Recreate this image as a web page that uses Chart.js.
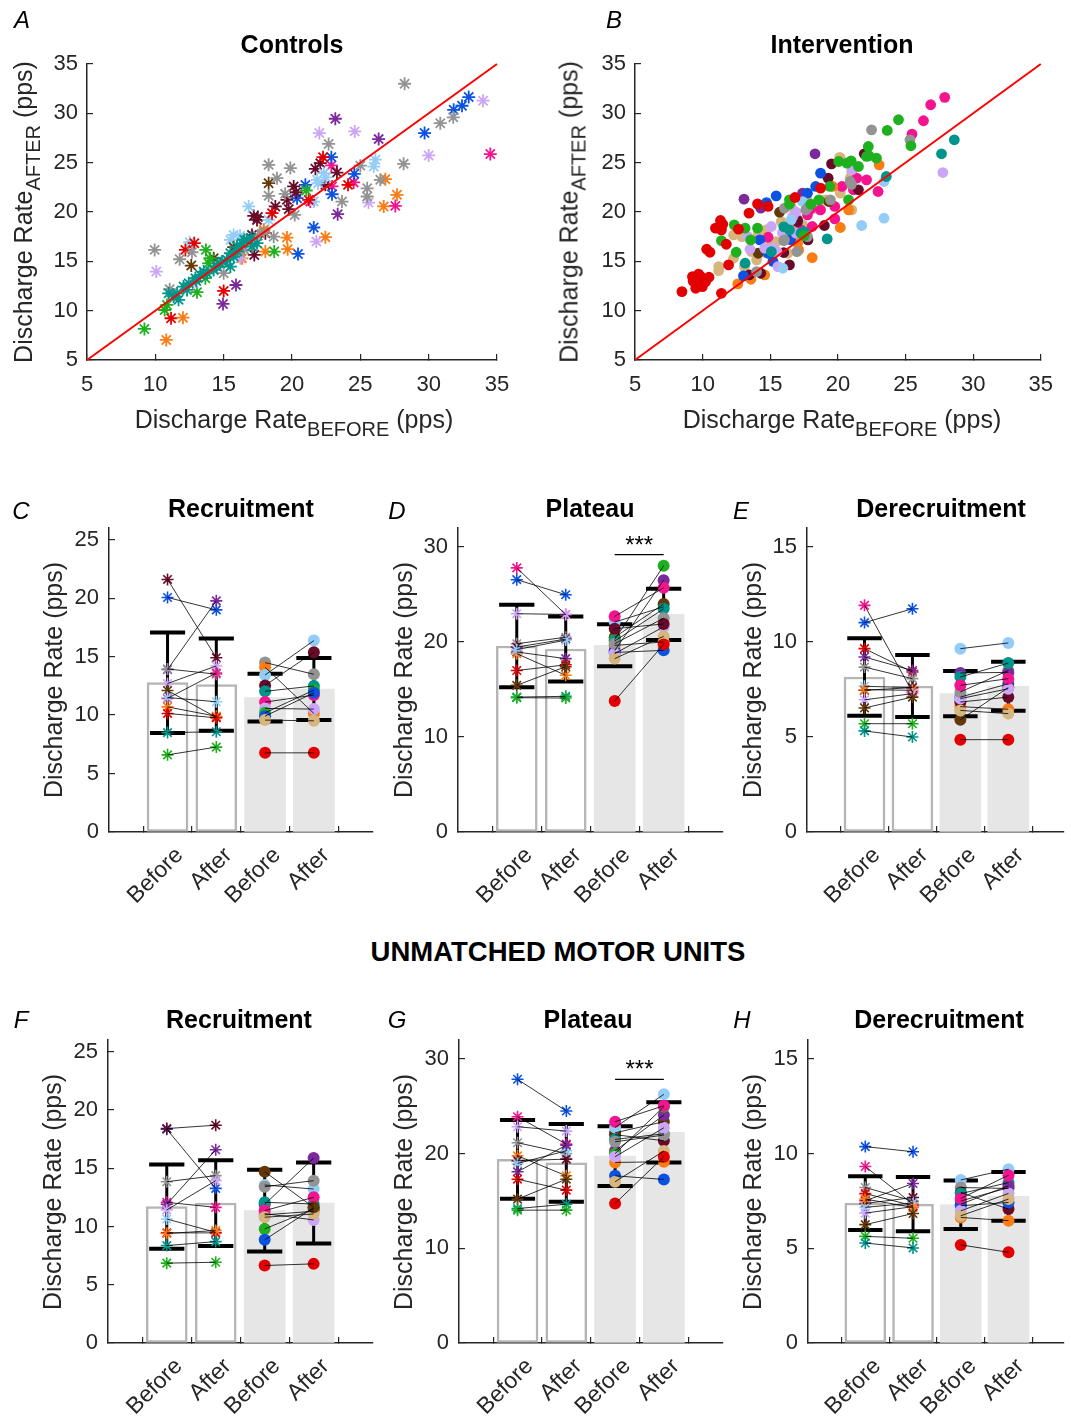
<!DOCTYPE html>
<html><head><meta charset="utf-8">
<script src="https://cdn.jsdelivr.net/npm/chart.js@4.4.0/dist/chart.umd.min.js"></script>
<style>
html,body{margin:0;padding:0;background:#fff;}
body{width:1071px;height:1419px;position:relative;overflow:hidden;font-family:'Liberation Sans',Arial,sans-serif;color:#262626;}
canvas{position:absolute;}
.lbl{position:absolute;white-space:nowrap;line-height:1;transform:translate(-50%,-50%);}
.rot{transform:translate(-50%,-50%) rotate(-90deg);}
.title{font-weight:bold;font-size:25px;color:#000;}
.big{font-weight:bold;font-size:27.5px;color:#000;}
.letter{font-style:italic;font-size:24px;color:#000;}
.axt{font-size:25px;color:#262626;}
.sub{font-size:20px;position:relative;top:8px;}
</style></head>
<body>
<canvas id="cA" width="530" height="450" style="left:0;top:0"></canvas>
<canvas id="cB" width="531" height="450" style="left:540px;top:0"></canvas>
<canvas id="cC" width="380" height="430" style="left:0;top:490px"></canvas>
<canvas id="cD" width="370" height="430" style="left:360px;top:490px"></canvas>
<canvas id="cE" width="361" height="430" style="left:710px;top:490px"></canvas>
<canvas id="cF" width="380" height="419" style="left:0;top:1000px"></canvas>
<canvas id="cG" width="370" height="419" style="left:360px;top:1000px"></canvas>
<canvas id="cH" width="361" height="419" style="left:710px;top:1000px"></canvas>

<div class="lbl letter" style="left:22px;top:20px">A</div>
<div class="lbl letter" style="left:614px;top:20px">B</div>
<div class="lbl title" style="left:292px;top:44px">Controls</div>
<div class="lbl title" style="left:842px;top:44px">Intervention</div>
<div class="lbl axt rot" style="left:23px;top:212px">Discharge Rate<span class="sub">AFTER</span> (pps)</div>
<div class="lbl axt rot" style="left:569px;top:212px">Discharge Rate<span class="sub">AFTER</span> (pps)</div>
<div class="lbl axt" style="left:294px;top:419px">Discharge Rate<span class="sub">BEFORE</span> (pps)</div>
<div class="lbl axt" style="left:842px;top:419px">Discharge Rate<span class="sub">BEFORE</span> (pps)</div>

<div class="lbl letter" style="left:21px;top:511px">C</div>
<div class="lbl letter" style="left:397px;top:511px">D</div>
<div class="lbl letter" style="left:741px;top:511px">E</div>
<div class="lbl title" style="left:241px;top:508px">Recruitment</div>
<div class="lbl title" style="left:590px;top:508px">Plateau</div>
<div class="lbl title" style="left:941px;top:508px">Derecruitment</div>
<div class="lbl axt rot" style="left:53px;top:680px">Discharge Rate (pps)</div>
<div class="lbl axt rot" style="left:403px;top:680px">Discharge Rate (pps)</div>
<div class="lbl axt rot" style="left:752px;top:680px">Discharge Rate (pps)</div>

<div class="lbl big" style="left:558px;top:952px">UNMATCHED MOTOR UNITS</div>

<div class="lbl letter" style="left:21px;top:1020px">F</div>
<div class="lbl letter" style="left:397px;top:1020px">G</div>
<div class="lbl letter" style="left:742px;top:1020px">H</div>
<div class="lbl title" style="left:239px;top:1019px">Recruitment</div>
<div class="lbl title" style="left:588px;top:1019px">Plateau</div>
<div class="lbl title" style="left:939px;top:1019px">Derecruitment</div>
<div class="lbl axt rot" style="left:52px;top:1192px">Discharge Rate (pps)</div>
<div class="lbl axt rot" style="left:403px;top:1192px">Discharge Rate (pps)</div>
<div class="lbl axt rot" style="left:752px;top:1192px">Discharge Rate (pps)</div>

<script>
// ---------------- DATA ----------------
const COL = {
  red:'#e30000', blue:'#0b52e3', green:'#1fb01f', orange:'#f97d14', purple:'#7b2a9b',
  maroon:'#680a2a', brown:'#633808', teal:'#00958a', gray:'#939393', lightblue:'#93cdf7',
  lavender:'#cba6f6', pink:'#f5148f', tan:'#d6b67e'
};
const scatterTicks = [5, 10, 15, 20, 25, 30, 35];
const identityLine = [5, 35];
const barTickLabels = ['Before', 'After', 'Before', 'After'];

// Panel A (controls) [before, after] pairs per colour
const A_gray = [[9.95,16.16],[11.78,15.21],[11.05,12.17],[12.68,15.92],[18.29,24.78],[18.9,23.43],[19.88,24.45],[18.29,21.64],[19.5,21.84],[20.2,19.7],[22.68,26.9],[28.24,33.0],[28.17,24.88],[30.85,29.0],[31.8,29.6],[25.0,24.7],[25.5,22.4],[25.5,21.57],[26.46,23.26],[23.66,21.06],[18.66,17.5],[15.0,13.8],[16.22,16.16],[17.93,18.0],[17.5,17.6],[16.5,16.2]];
const A_lavender = [[10.07,13.96],[22.0,28.0],[24.59,28.17],[33.98,31.28],[30.0,25.73],[25.6,20.96],[21.78,17.0],[16.22,15.3],[12.8,12.78]];
const A_purple = [[23.17,29.45],[26.34,27.39],[23.34,19.78],[15.9,12.6],[14.95,10.68]];
const A_blue = [[32.93,31.65],[32.44,30.77],[31.83,30.36],[29.7,28.0],[24.56,23.87],[22.88,25.56],[22.93,21.8],[20.98,22.75],[20.37,21.4],[21.59,18.43],[20.44,15.75]];
const A_lightblue = [[12.51,16.94],[16.83,20.56],[18.29,19.2],[21.83,23.26],[22.32,23.94],[21.59,21.06],[26.1,25.3],[25.98,24.6],[15.49,17.17],[15.73,17.68],[16.2,17.6],[21.9,22.9],[22.5,23.5]];
const A_maroon = [[17.2,19.6],[17.44,19.2],[18.78,20.56],[19.76,20.29],[20.12,22.59],[21.71,24.38],[22.07,24.95],[23.29,24.0],[22.44,22.75],[17.07,17.68],[17.24,15.65],[19.63,21.23],[18.05,17.85],[20.3,22.0],[17.5,19.5]];
const A_red = [[12.85,16.84],[12.2,16.16],[15.0,12.0],[11.15,9.23],[18.54,19.88],[22.27,25.56],[24.1,22.75],[21.22,21.23]];
const A_pink = [[34.51,25.87],[27.56,20.62],[22.88,24.72],[24.51,23.0],[21.34,21.06],[22.93,22.59]];
const A_orange = [[10.8,7.03],[12.02,9.29],[19.63,17.41],[19.68,16.23],[22.44,17.45],[18.05,15.99],[26.83,23.33],[27.68,21.74],[26.71,20.56],[16.34,15.3],[17.93,18.2]];
const A_green = [[9.2,8.15],[10.68,10.07],[10.85,10.58],[13.05,11.87],[13.7,16.16],[13.9,14.8],[14.0,15.31],[13.66,13.29],[18.7,15.99],[21.04,22.18]];
const A_brown = [[12.63,14.57],[18.29,22.92],[14.27,15.31],[15.73,16.43]];
const A_teal = [[10.98,11.76],[11.34,11.43],[11.7,11.1],[12.07,12.44],[12.44,12.78],[12.93,13.29],[13.29,13.62],[13.54,13.96],[14.27,14.13],[14.88,14.98],[15.24,15.15],[15.49,15.82],[15.98,16.5],[16.34,16.84],[16.71,17.17],[17.07,16.5],[15.49,14.47],[14.76,14.8],[11.59,11.76],[12.32,12.1],[13.78,13.79],[15.73,15.48],[17.44,16.84],[16.0,16.0],[16.5,17.2],[17.0,17.4],[14.5,14.5],[13.0,13.0]];

// Panel B (intervention)
const B_red = [[8.47,11.93],[9.25,13.45],[9.49,12.78],[9.86,13.45],[10.22,12.95],[10.47,13.39],[9.49,12.27],[9.98,12.44],[10.3,16.23],[10.54,15.92],[10.95,18.36],[11.32,19.14],[11.49,18.76],[11.39,18.19],[11.75,16.73],[11.92,14.64],[11.39,11.76],[12.65,18.26],[13.43,19.88],[14.06,20.83],[14.84,20.56],[18.72,22.42],[16.83,21.47],[9.7,13.7],[9.3,13.0]];
const B_green = [[24.48,29.35],[23.65,28.27],[25.4,26.71],[22.25,26.64],[22.85,25.46],[22.3,25.7],[20.98,25.19],[21.52,24.61],[20.67,24.95],[20.06,25.12],[19.4,22.59],[20.79,21.23],[16.42,21.23],[16.42,20.79],[12.34,18.7],[13.14,18.36],[13.55,17.17],[11.39,17.1],[14.06,18.36],[12.48,15.92],[18.6,21.23],[22.12,25.63],[17.5,17.6],[18.0,20.8]];
const B_pink = [[27.9,31.62],[26.86,30.87],[26.33,29.25],[25.48,27.89],[22.12,23.26],[22.97,22.08],[21.15,22.25],[20.3,22.59],[19.77,20.56],[19.77,19.3],[17.75,19.71],[18.1,18.53],[16.66,19.2],[16.42,17.65],[14.84,17.44],[17.5,17.85],[21.39,23.43],[18.72,20.22],[17.27,18.19],[16.3,18.3],[18.0,20.3]];
const B_gray = [[22.49,28.33],[25.33,27.32],[20.91,23.09],[19.45,21.23],[17.63,20.22],[16.05,20.39],[16.05,17.17],[16.97,15.99],[13.99,13.96],[17.75,17.51],[16.0,17.1],[17.8,20.5],[21.0,22.8]];
const B_teal = [[28.61,27.32],[27.66,25.9],[23.58,23.6],[19.21,17.27],[13.14,14.81],[16.42,18.19],[17.27,17.85],[15.08,15.99],[16.0,18.5],[17.5,18.0]];
const B_lightblue = [[23.41,23.09],[23.41,19.37],[21.76,18.63],[15.93,14.3],[17.39,21.06],[16.54,19.2]];
const B_lavender = [[27.76,24.0],[15.57,14.47],[15.08,18.53],[15.2,16.33],[14.59,16.33],[13.5,16.23],[13.33,17.51],[16.66,19.54],[21.03,24.28],[16.9,17.85],[15.9,17.9],[16.9,20.0],[15.5,16.0]];
const B_blue = [[18.72,23.94],[15.44,21.64],[14.72,20.96],[18.36,22.59],[17.75,21.91],[14.23,17.17],[13.02,13.52],[14.84,15.82],[16.5,17.2],[15.2,15.0]];
const B_purple = [[18.31,25.9],[13.06,21.3],[14.3,20.39],[17.39,21.91]];
const B_maroon = [[21.95,25.9],[19.53,24.88],[19.28,23.43],[21.52,22.25],[19.0,18.63],[17.79,17.17],[16.42,14.64],[16.0,15.89],[14.3,13.79],[13.45,13.62],[17.02,19.03]];
const B_orange = [[23.05,24.78],[19.62,22.59],[20.18,18.43],[18.1,15.38],[12.6,12.71],[13.57,13.18],[14.59,13.62],[17.1,16.16],[17.02,16.84],[20.79,20.22]];
const B_brown = [[15.69,19.98],[17.02,19.2],[14.11,15.82],[19.33,21.06]];
const B_tan = [[20.13,25.53],[21.03,24.0],[20.91,23.43],[20.18,21.91],[19.09,21.23],[21.03,20.22],[18.55,20.29],[17.7,21.3],[17.39,18.7],[16.54,20.56],[16.66,18.7],[15.81,19.03],[15.44,17.0],[14.72,18.19],[14.11,17.85],[13.62,15.99],[13.99,15.15],[14.55,15.92],[12.29,17.68],[12.9,17.51],[12.29,15.31],[11.19,14.47],[11.19,14.06],[13.09,14.47],[9.98,12.78],[16.3,15.82],[20.18,25.46],[21.03,23.26],[15.0,16.8],[17.0,17.4],[18.5,21.0]];

// Panel C: recruitment (matched)
const C_ctrlColors = ['maroon','blue','purple','gray','lavender','brown','pink','lightblue','orange','red','teal','green'];
const C_ctrlBefore = [21.6,20.06,13.9,13.94,12.7,12.1,11.43,11.5,10.7,10.14,8.5,6.6];
const C_ctrlAfter  = [14.9,19.0,19.77,13.5,14.2,9.8,13.6,11.14,9.9,9.77,8.57,7.26];
const C_intColors = ['gray','orange','lightblue','maroon','teal','pink','lavender','green','blue','tan','red'];
const C_intBefore = [14.49,14.09,13.43,12.54,12.03,11.11,10.57,10.2,9.91,9.57,6.77];
const C_intAfter  = [13.49,10.14,16.37,15.37,12.49,11.71,10.51,12.14,11.9,9.51,6.77];
const C_means = [12.77,12.6,11.5,12.23];
const C_sd = [4.3,3.94,2.04,2.65];
const C_yTicks = [0,5,10,15,20,25];

// Panel D: plateau (matched)
const D_ctrlColors = ['pink','blue','lavender','gray','maroon','purple','orange','lightblue','red','brown','teal','green'];
const D_ctrlBefore = [27.8,26.56,22.98,19.82,19.47,18.95,18.77,19.2,17.0,15.44,14.2,14.14];
const D_ctrlAfter  = [22.9,24.98,22.9,20.5,20.3,18.25,16.5,20.2,17.6,17.4,14.28,14.1];
const D_intColors = ['lightblue','brown','green','teal','orange','purple','blue','lavender','gray','tan','maroon','pink','red'];
const D_intBefore = [22.1,20.5,20.25,20.1,19.65,19.1,18.9,18.77,19.82,18.25,21.4,22.7,13.79];
const D_intAfter  = [23.7,24.0,28.03,23.5,20.0,26.5,19.12,21.6,22.5,20.6,21.9,25.7,19.75];
const D_means = [19.58,19.26,19.65,22.9];
const D_sd = [4.35,3.42,2.21,2.7];
const D_yTicks = [0,10,20,30];
const D_sig = [3, 4, 29.2];

// Panel E: derecruitment (matched)
const E_ctrlColors = ['pink','blue','red','purple','gray','lightblue','maroon','orange','lavender','brown','green','teal'];
const E_ctrlBefore = [11.93,11.02,9.65,9.21,8.68,7.67,7.46,7.49,6.96,6.53,5.7,5.32];
const E_ctrlAfter  = [7.37,11.75,8.42,8.5,8.07,7.6,7.6,7.46,7.28,7.1,5.7,5.0];
const E_intColors = ['lightblue','blue','orange','brown','maroon','lavender','tan','gray','purple','teal','pink','red'];
const E_intBefore = [9.65,7.1,6.6,5.91,6.84,7.02,6.4,7.37,8.37,8.16,7.72,4.86];
const E_intAfter  = [9.95,7.8,6.46,7.6,7.1,7.54,6.23,8.5,8.4,8.89,8.07,4.86];
const E_means = [8.16,7.68,7.28,7.67];
const E_sd = [2.04,1.63,1.19,1.29];
const E_yTicks = [0,5,10,15];

// Panel F: recruitment (unmatched)
const F_ctrlColors = ['blue','maroon','gray','pink','purple','lavender','lightblue','red','orange','teal','green'];
const F_ctrlBefore = [18.35,18.4,13.84,12.07,11.9,11.42,10.64,9.45,9.4,8.36,6.85];
const F_ctrlAfter  = [13.27,18.69,14.36,11.64,16.58,13.93,9.5,9.45,9.65,8.7,6.93];
const F_intColors = ['lightblue','orange','lavender','purple','green','blue','teal','gray','pink','tan','brown','red'];
const F_intBefore = [13.56,11.0,11.1,11.9,9.79,8.85,12.07,13.41,11.36,10.79,14.7,6.65];
const F_intAfter  = [13.21,11.3,10.56,15.87,11.5,11.6,11.93,13.93,12.5,11.07,11.64,6.79];
const F_means = [11.7,12.01,11.36,12.01];
const F_sd = [3.61,3.68,3.5,3.47];
const F_yTicks = [0,5,10,15,20,25];

// Panel G: plateau (unmatched)
const G_ctrlColors = ['blue','pink','lavender','gray','orange','maroon','lightblue','purple','red','brown','teal','green'];
const G_ctrlBefore = [27.85,23.9,22.84,21.15,19.77,19.25,18.96,18.08,17.3,15.19,14.2,14.03];
const G_ctrlAfter  = [24.5,21.0,22.38,20.02,17.66,19.42,20.3,20.9,16.14,17.3,14.66,14.03];
const G_intColors = ['blue','orange','maroon','brown','purple','green','teal','lightblue','gray','lavender','tan','pink','red'];
const G_intBefore = [17.66,19.07,22.0,22.2,20.3,20.0,21.5,22.77,21.25,19.67,17.03,23.37,14.73];
const G_intAfter  = [17.27,19.14,21.36,23.37,24.07,24.96,22.1,26.26,21.96,22.73,20.27,25.06,19.67];
const G_means = [19.39,19.03,19.74,22.24];
const G_sd = [4.15,4.1,3.15,3.18];
const G_yTicks = [0,10,20,30];
const G_sig = [3, 4, 27.85];

// Panel H: derecruitment (unmatched)
const H_ctrlColors = ['blue','pink','gray','red','purple','maroon','lightblue','lavender','orange','brown','green','teal'];
const H_ctrlBefore = [10.37,9.32,8.21,7.89,7.51,7.37,7.16,6.86,7.6,6.25,5.63,5.28];
const H_ctrlAfter  = [10.1,7.33,7.5,7.25,8.42,7.68,7.4,7.2,7.16,6.84,5.53,5.02];
const H_intColors = ['lightblue','gray','maroon','teal','green','purple','blue','lavender','orange','pink','tan','red'];
const H_intBefore = [8.61,8.21,7.95,7.89,7.5,7.33,7.25,6.98,6.63,7.63,6.72,5.18];
const H_intAfter  = [9.18,8.16,7.07,8.47,8.2,8.3,7.42,7.9,6.46,8.86,7.6,4.79];
const H_means = [7.39,7.33,7.3,7.74];
const H_sd = [1.42,1.43,1.28,1.29];
const H_yTicks = [0,5,10,15];

// ---------------- RENDERING ----------------
Chart.defaults.font.family = "'Liberation Sans', Arial, sans-serif";
Chart.defaults.color = '#262626';
const INK = '#262626';

function axis(o) {
  return {
    type: 'linear', min: o.min, max: o.max, offset: false,
    afterBuildTicks: s => { s.ticks = o.ticks.map(v => ({ value: v })); },
    afterFit: s => { if (o.horiz) s.height = o.fit; else s.width = o.fit; },
    border: { display: true, color: INK, width: 1.5 },
    grid: { display: true, drawOnChartArea: false, drawTicks: true, tickLength: -6, color: INK, lineWidth: 1.2 },
    ticks: {
      color: INK, font: { size: o.font || 22 }, padding: o.pad, autoSkip: false,
      labelOffset: o.labelOffset || 0,
      maxRotation: o.rot || 0, minRotation: o.rot || 0,
      callback: o.labels ? (v => o.labels[v - 1] ?? '') : (v => String(v))
    }
  };
}

const baseOpts = (pad) => ({
  responsive: false, animation: false, devicePixelRatio: 1,
  layout: { padding: pad },
  plugins: { legend: { display: false }, tooltip: { enabled: false } }
});

const sigTextPlugin = {
  id: 'sigText',
  afterDatasetsDraw(chart) {
    const s = chart.options.plugins.sigText;
    if (!s || !s.label) return;
    const { ctx, scales } = chart;
    const x = scales.x.getPixelForValue((s.from + s.to) / 2);
    const y = scales.y.getPixelForValue(s.y);
    ctx.save();
    ctx.font = "24px 'Liberation Sans', Arial, sans-serif";
    ctx.fillStyle = '#000'; ctx.textAlign = 'center'; ctx.textBaseline = 'alphabetic';
    ctx.fillText(s.label, x, y - 2);
    ctx.restore();
  }
};

function scatterPanel(id, groups, style, fitY, padRight) {
  const datasets = groups.map(([c, pts]) => ({
    type: 'scatter', data: pts.map(p => ({ x: p[0], y: p[1] })),
    pointStyle: style, pointRadius: style === 'star' ? 6.5 : 5.4,
    pointBorderColor: COL[c], pointBackgroundColor: COL[c],
    pointBorderWidth: style === 'star' ? 1.8 : 0, clip: false, order: 2
  }));
  datasets.push({
    type: 'line', data: identityLine.map(v => ({ x: v, y: v })),
    borderColor: '#ff0000', borderWidth: 2, pointRadius: 0, clip: false, order: 1
  });
  new Chart(document.getElementById(id), {
    type: 'scatter', data: { datasets },
    options: Object.assign(baseOpts({ left: 0, top: 64, right: padRight, bottom: 0 }), {
      scales: {
        x: axis({ min: 5, max: 35, ticks: scatterTicks, horiz: true, fit: 90, pad: 18 }),
        y: axis({ min: 5, max: 35, ticks: scatterTicks, horiz: false, fit: fitY, pad: 15 })
      }
    })
  });
}

scatterPanel('cA', [['teal',A_teal],['gray',A_gray],['lavender',A_lavender],['green',A_green],['orange',A_orange],['brown',A_brown],['red',A_red],['lightblue',A_lightblue],['maroon',A_maroon],['purple',A_purple],['blue',A_blue],['pink',A_pink]], 'star', 87, 33);
scatterPanel('cB', [['red',B_red],['green',B_green],['teal',B_teal],['gray',B_gray],['lightblue',B_lightblue],['lavender',B_lavender],['blue',B_blue],['purple',B_purple],['maroon',B_maroon],['orange',B_orange],['brown',B_brown],['pink',B_pink],['tan',B_tan]], 'circle', 95, 24);

function seg(pts, color, w, order) {
  return { type: 'line', data: pts.map(p => ({ x: p[0], y: p[1] })), borderColor: color, borderWidth: w,
    pointRadius: 0, order, clip: false, borderCapStyle: 'butt', tension: 0 };
}

function barPanel(cfg) {
  const xs = barTickLabels.map((_, i) => i + 1);
  const capHalf = 0.36;
  const ds = [];
  ds.push({
    type: 'bar', data: xs.map((x, i) => ({ x, y: cfg.means[i] })),
    backgroundColor: xs.map((x, i) => i < 2 ? '#ffffff' : '#e6e6e6'),
    borderColor: xs.map((x, i) => i < 2 ? '#b5b5b5' : '#e6e6e6'),
    borderWidth: ctx => ctx.dataIndex < 2 ? 2.5 : 0,
    borderSkipped: false, barThickness: 41, order: 10
  });
  xs.forEach((x, i) => {
    const lo = cfg.means[i] - cfg.sd[i], hi = cfg.means[i] + cfg.sd[i];
    ds.push(seg([[x, lo], [x, hi]], '#000', 3, 8));
    ds.push(seg([[x - capHalf, hi], [x + capHalf, hi]], '#000', 4, 8));
    ds.push(seg([[x - capHalf, lo], [x + capHalf, lo]], '#000', 4, 8));
  });
  const markers = (cols, before, after, style, x1, x2) => ({
    type: 'scatter',
    data: [...before.map(v => ({ x: x1, y: v })), ...after.map(v => ({ x: x2, y: v }))],
    pointStyle: style, pointRadius: 6,
    pointBackgroundColor: [...cols, ...cols].map(c => COL[c]),
    pointBorderColor: [...cols, ...cols].map(c => COL[c]),
    pointBorderWidth: style === 'star' ? 1.6 : 0, order: 5, clip: false
  });
  ds.push(markers(cfg.ctrlColors, cfg.ctrlBefore, cfg.ctrlAfter, 'star', 1, 2));
  ds.push(markers(cfg.intColors, cfg.intBefore, cfg.intAfter, 'circle', 3, 4));
  cfg.ctrlBefore.forEach((b, i) => ds.push(seg([[1, b], [2, cfg.ctrlAfter[i]]], '#000', 0.8, 4)));
  cfg.intBefore.forEach((b, i) => ds.push(seg([[3, b], [4, cfg.intAfter[i]]], '#000', 0.8, 4)));
  let sigOpt = {};
  if (cfg.sig) {
    ds.push(seg([[cfg.sig[0], cfg.sig[2]], [cfg.sig[1], cfg.sig[2]]], '#000', 1.2, 3));
    sigOpt = { from: cfg.sig[0], to: cfg.sig[1], y: cfg.sig[2], label: '***' };
  }
  const opts = baseOpts({ left: 0, top: cfg.top, right: cfg.right, bottom: 0 });
  opts.plugins.sigText = sigOpt;
  opts.scales = {
    x: axis({ min: -0.2, max: cfg.xMax, ticks: xs, horiz: true, fit: cfg.xFit, pad: 16, labelOffset: 12, font: 23, rot: 45, labels: barTickLabels }),
    y: axis({ min: 0, max: cfg.yMax, ticks: cfg.yTicks, horiz: false, fit: cfg.yFit, pad: 16 })
  };
  new Chart(document.getElementById(cfg.id), { type: 'bar', data: { datasets: ds }, options: opts, plugins: [sigTextPlugin] });
}

barPanel({ id:'cC', top:38, right:5, yFit:109, xFit:88, xMax:5.2, yMax:26, yTicks:C_yTicks,
  ctrlColors:C_ctrlColors, ctrlBefore:C_ctrlBefore, ctrlAfter:C_ctrlAfter,
  intColors:C_intColors, intBefore:C_intBefore, intAfter:C_intAfter, means:C_means, sd:C_sd });
barPanel({ id:'cD', top:38, right:5, yFit:98, xFit:88, xMax:5.2, yMax:32, yTicks:D_yTicks,
  ctrlColors:D_ctrlColors, ctrlBefore:D_ctrlBefore, ctrlAfter:D_ctrlAfter,
  intColors:D_intColors, intBefore:D_intBefore, intAfter:D_intAfter, means:D_means, sd:D_sd, sig:D_sig });
barPanel({ id:'cE', top:38, right:0, yFit:97, xFit:88, xMax:5.15, yMax:16, yTicks:E_yTicks,
  ctrlColors:E_ctrlColors, ctrlBefore:E_ctrlBefore, ctrlAfter:E_ctrlAfter,
  intColors:E_intColors, intBefore:E_intBefore, intAfter:E_intAfter, means:E_means, sd:E_sd });
barPanel({ id:'cF', top:40, right:6, yFit:108, xFit:76, xMax:5.2, yMax:26, yTicks:F_yTicks,
  ctrlColors:F_ctrlColors, ctrlBefore:F_ctrlBefore, ctrlAfter:F_ctrlAfter,
  intColors:F_intColors, intBefore:F_intBefore, intAfter:F_intAfter, means:F_means, sd:F_sd });
barPanel({ id:'cG', top:40, right:5, yFit:99, xFit:76, xMax:5.2, yMax:32, yTicks:G_yTicks,
  ctrlColors:G_ctrlColors, ctrlBefore:G_ctrlBefore, ctrlAfter:G_ctrlAfter,
  intColors:G_intColors, intBefore:G_intBefore, intAfter:G_intAfter, means:G_means, sd:G_sd, sig:G_sig });
barPanel({ id:'cH', top:40, right:0, yFit:98, xFit:76, xMax:5.15, yMax:16, yTicks:H_yTicks,
  ctrlColors:H_ctrlColors, ctrlBefore:H_ctrlBefore, ctrlAfter:H_ctrlAfter,
  intColors:H_intColors, intBefore:H_intBefore, intAfter:H_intAfter, means:H_means, sd:H_sd });
</script>
</body></html>
